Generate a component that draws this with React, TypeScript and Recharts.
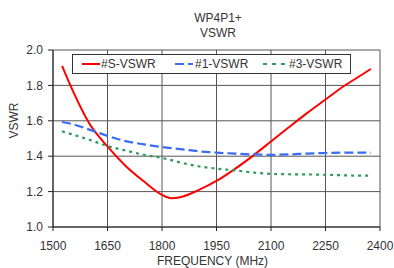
import { LineChart, Line, XAxis, YAxis, CartesianGrid } from 'recharts';

const freqs = [1525, 1550, 1600, 1650, 1700, 1750, 1800, 1825, 1850, 1900, 1950, 2000, 2050, 2100, 2150, 2200, 2250, 2300, 2350, 2375];
const sVswr = [1.91, 1.79, 1.585, 1.455, 1.345, 1.258, 1.182, 1.163, 1.168, 1.208, 1.26, 1.327, 1.402, 1.483, 1.565, 1.645, 1.72, 1.795, 1.86, 1.893];
const vswr1 = [1.593, 1.583, 1.55, 1.515, 1.485, 1.467, 1.452, 1.446, 1.44, 1.428, 1.42, 1.415, 1.41, 1.408, 1.41, 1.415, 1.418, 1.42, 1.42, 1.42];
const vswr3 = [1.54, 1.525, 1.493, 1.458, 1.432, 1.408, 1.39, 1.378, 1.365, 1.343, 1.33, 1.32, 1.308, 1.3, 1.298, 1.297, 1.295, 1.292, 1.29, 1.29];

const xTicks = [1500, 1650, 1800, 1950, 2100, 2250, 2400];
const yTicks = [1.0, 1.2, 1.4, 1.6, 1.8, 2.0];

const data = freqs.map((f, i) => ({ freq: f, s: sVswr[i], a: vswr1[i], b: vswr3[i] }));

const font = '"Liberation Sans", Arial, sans-serif';
const RED = '#ff0000';
const BLUE = '#3a6cf4';
const GREEN = '#2e9a5e';

// legend box sits inside the plot, like the original
function ChartLegend() {
    return (
        <svg width={279} height={20} style={{ display: 'block' }}>
            <rect x={0.5} y={0.5} width={278} height={19} fill="#fff" stroke="#333" />
            <line x1={10} y1={10} x2={28} y2={10} stroke={RED} strokeWidth={2} />
            <text x={29} y={14} fontSize={12} fill="#333" fontFamily={font}>#S-VSWR</text>
            <line x1={103} y1={10} x2={121} y2={10} stroke={BLUE} strokeWidth={2} strokeDasharray="9 4" />
            <text x={123} y={14} fontSize={12} fill="#333" fontFamily={font}>#1-VSWR</text>
            <line x1={191} y1={10} x2={214} y2={10} stroke={GREEN} strokeWidth={2} strokeDasharray="4 5" />
            <text x={217} y={14} fontSize={12} fill="#333" fontFamily={font}>#3-VSWR</text>
        </svg>
    );
}

export default function App() {
    return (
        <div style={{ position: 'absolute', left: 0, top: 0, width: 394, height: 268, background: '#fff', fontFamily: font }}>
            <div style={{ position: 'absolute', left: 0, width: 436, top: 11, textAlign: 'center', fontSize: 12, lineHeight: '15px', color: '#333' }}>
                WP4P1+<br />VSWR
            </div>
            <LineChart width={394} height={268} data={data} margin={{ top: 50, right: 14, bottom: 0, left: 0 }}>
                <CartesianGrid stroke="#555" strokeWidth={1} />
                <XAxis
                    dataKey="freq"
                    type="number"
                    domain={[1500, 2400]}
                    ticks={xTicks}
                    height={41}
                    tickSize={4}
                    tickMargin={10}
                    stroke="#222"
                    tick={{ fontSize: 12, fill: '#333', fontFamily: font }}
                    label={{ value: 'FREQUENCY (MHz)', position: 'insideBottom', offset: 3, dx: -4, fontSize: 12, fill: '#333', fontFamily: font }}
                />
                <YAxis
                    type="number"
                    domain={[1, 2]}
                    ticks={yTicks}
                    width={53}
                    tickSize={5}
                    tickMargin={5}
                    stroke="#222"
                    tickFormatter={(v) => v.toFixed(1)}
                    tick={{ fontSize: 12, fill: '#333', fontFamily: font }}
                    label={{ value: 'VSWR', angle: -90, position: 'insideLeft', offset: 14, fontSize: 12, fill: '#333', fontFamily: font }}
                />
                <Line type="monotone" dataKey="s" name="#S-VSWR" stroke={RED} strokeWidth={2} dot={false} isAnimationActive={false} />
                <Line type="monotone" dataKey="a" name="#1-VSWR" stroke={BLUE} strokeWidth={2.2} strokeDasharray="9 4" dot={false} isAnimationActive={false} />
                <Line type="monotone" dataKey="b" name="#3-VSWR" stroke={GREEN} strokeWidth={2.2} strokeDasharray="3 4" dot={false} isAnimationActive={false} />
            </LineChart>
            <div style={{ position: 'absolute', left: 72, top: 54 }}>
                <ChartLegend />
            </div>
        </div>
    );
}
